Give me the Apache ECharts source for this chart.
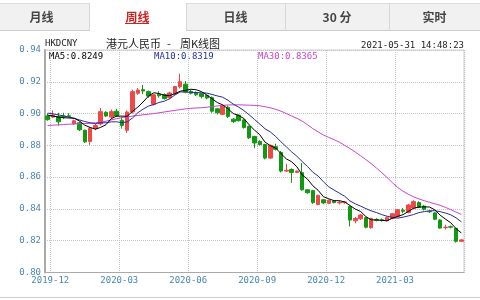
<!DOCTYPE html>
<html><head><meta charset="utf-8">
<script src="https://cdn.jsdelivr.net/npm/echarts@6/dist/echarts.min.js"></script>
<style>html,body{margin:0;padding:0;background:#fff;}#c{width:480px;height:300px;}</style>
</head><body><div id="c"></div>
<script>
// weekly categories (week-ending Fridays)
const categories = [];
for (let k = 0; k < 79; k++) {
  const d = new Date(Date.UTC(2019, 10, 29) + k * 7 * 86400000);
  categories.push(d.toISOString().slice(0, 10));
}
const openVals = [.8985,.8978,.8982,.8985,.8986,.8935,.8942,.8895,.8825,.8905,
.8935,.9008,.8978,.9015,.8958,.8895,.9010,.9128,.9150,.9138,
.9058,.9122,.9120,.9100,.9125,.9168,.9185,.9140,.9132,.9125,
.9115,.9100,.9030,.8995,.9040,.8965,.8990,.8960,.8918,.8856,
.8825,.8805,.8720,.8792,.8755,.8638,.8648,.8630,.8628,.8520,
.8515,.8428,.8458,.8435,.8450,.8438,.8440,.8415,.8325,.8338,
.8345,.8282,.8333,.8332,.8327,.8340,.8352,.8392,.8378,.8405,
.8440,.8418,.8385,.8375,.8330,.8282,.8288,.8278,.8196];
const closeVals = [.8962,.8990,.8948,.8980,.8982,.8955,.8898,.8822,.8908,.8925,
.9012,.8985,.9012,.8985,.8925,.9010,.9138,.9148,.9142,.9110,
.9118,.9112,.9095,.9130,.9170,.9200,.9135,.9128,.9118,.9108,
.9098,.9015,.9005,.9048,.8982,.8950,.8955,.8912,.8848,.8815,
.8805,.8720,.8800,.8775,.8638,.8643,.8630,.8638,.8520,.8502,
.8440,.8485,.8438,.8455,.8440,.8442,.8444,.8330,.8340,.8362,
.8285,.8340,.8328,.8327,.8345,.8370,.8395,.8385,.8425,.8446,
.8410,.8398,.8382,.8335,.8280,.8285,.8285,.8196,.8205];
const lowVals = [.8955,.8972,.8925,.8965,.8975,.8930,.8890,.8815,.8803,.8895,
.8925,.8978,.8968,.8978,.8905,.8878,.9000,.9118,.9122,.9100,
.9050,.9100,.9088,.9092,.9118,.9158,.9128,.9120,.9110,.9095,
.9090,.9005,.8995,.8990,.8972,.8940,.8950,.8905,.8840,.8782,
.8798,.8712,.8715,.8768,.8630,.8632,.8565,.8625,.8515,.8495,
.8432,.8422,.8430,.8430,.8435,.8428,.8432,.8290,.8310,.8330,
.8278,.8275,.8322,.8320,.8322,.8335,.8345,.8372,.8372,.8400,
.8405,.8390,.8375,.8330,.8275,.8270,.8278,.8188,.8192];
const highVals = [.9000,.9020,.9005,.9005,.9002,.8962,.8950,.8900,.8915,.8935,
.9035,.9015,.9025,.9030,.8975,.9020,.9150,.9160,.9180,.9145,
.9125,.9140,.9128,.9138,.9175,.9250,.9205,.9150,.9140,.9130,
.9120,.9108,.9036,.9055,.9050,.8972,.8995,.8965,.8925,.8860,
.8832,.8810,.8805,.8810,.8765,.8685,.8655,.8642,.8688,.8525,
.8520,.8490,.8462,.8460,.8455,.8452,.8450,.8420,.8350,.8368,
.8350,.8345,.8342,.8340,.8352,.8375,.8400,.8405,.8432,.8455,
.8448,.8425,.8392,.8380,.8335,.8300,.8295,.8280,.8210];
const ma5 = [.8990,.8985,.8978,.8974,.8972,.8971,.8953,.8927,.8913,.8902,
.8913,.8930,.8968,.8984,.8984,.8983,.9014,.9041,.9073,.9110,
.9131,.9126,.9115,.9113,.9125,.9141,.9146,.9153,.9150,.9138,
.9117,.9093,.9069,.9055,.9030,.9000,.8988,.8969,.8929,.8896,
.8867,.8820,.8798,.8783,.8748,.8715,.8697,.8665,.8614,.8587,
.8546,.8517,.8477,.8464,.8452,.8452,.8444,.8422,.8399,.8384,
.8352,.8331,.8331,.8328,.8325,.8342,.8353,.8364,.8384,.8404,
.8412,.8413,.8412,.8394,.8361,.8336,.8313,.8276,.8249];
const ma10 = [.9003,.8998,.8992,.8985,.8978,.8970,.8960,.8950,.8942,.8937,
.8942,.8942,.8948,.8948,.8943,.8948,.8972,.9005,.9028,.9047,
.9057,.9070,.9078,.9093,.9117,.9136,.9136,.9134,.9132,.9131,
.9129,.9120,.9111,.9103,.9084,.9059,.9041,.9019,.8992,.8963,
.8934,.8904,.8884,.8856,.8822,.8791,.8759,.8731,.8698,.8667,
.8631,.8607,.8571,.8539,.8519,.8499,.8480,.8450,.8432,.8418,
.8402,.8388,.8377,.8364,.8354,.8347,.8342,.8348,.8356,.8365,
.8377,.8383,.8388,.8389,.8383,.8374,.8363,.8344,.8319];
const ma30 = [.8925,.8927,.8929,.8931,.8933,.8935,.8936,.8937,.8939,.8942,
.8946,.8952,.8960,.8968,.8975,.8980,.8984,.8988,.8992,.8996,
.9000,.9005,.9010,.9015,.9020,.9025,.9030,.9033,.9035,.9037,
.9040,.9044,.9048,.9052,.9054,.9055,.9055,.9054,.9053,.9051,
.9049,.9043,.9036,.9027,.9015,.9000,.8985,.8970,.8952,.8930,
.8905,.8885,.8865,.8850,.8836,.8820,.8800,.8780,.8758,.8735,
.8710,.8685,.8657,.8628,.8598,.8565,.8535,.8512,.8492,.8476,
.8463,.8452,.8442,.8432,.8423,.8410,.8396,.8380,.8365];
const tabLabels = ['月线','周线','日线','30 分','实时'];

const chart = echarts.init(document.getElementById('c'), null, {renderer:'canvas'});
const mono = '"DejaVu Sans Mono", monospace';
const cjk = '"Noto Sans CJK SC", sans-serif';
const tabEdges = [-6, 89, 186, 285, 389, 480];
const graphics = [];
graphics.push({type:'rect', shape:{x:0,y:3,width:480,height:27}, style:{fill:'#f1f1f1'}, silent:true});
graphics.push({type:'line', shape:{x1:0,y1:3.5,x2:480,y2:3.5}, style:{stroke:'#dddddd',lineWidth:1}, silent:true});
graphics.push({type:'line', shape:{x1:0,y1:30.5,x2:480,y2:30.5}, style:{stroke:'#cccccc',lineWidth:1}, silent:true});
graphics.push({type:'rect', shape:{x:89,y:3,width:97,height:29}, style:{fill:'#ffffff'}, silent:true});
for (let k = 1; k < 5; k++) {
  graphics.push({type:'line', shape:{x1:tabEdges[k]+0.5,y1:3,x2:tabEdges[k]+0.5,y2:31}, style:{stroke:'#d6d6d6',lineWidth:1}, silent:true});
}
tabLabels.forEach((t, k) => {
  const cx = (tabEdges[k] + tabEdges[k+1]) / 2;
  graphics.push({type:'text', x:cx, y:17, style:{text:t, font:'bold 12px ' + cjk, fill: k===1 ? '#cc2222' : '#444444', align:'center', verticalAlign:'middle', textAlign:'center', textVerticalAlign:'middle'}, silent:true});
});
graphics.push({type:'line', shape:{x1:125,y1:23.5,x2:149,y2:23.5}, style:{stroke:'#cc2222',lineWidth:1}, silent:true});
const txt = (t, x, y, font, fill, align) => ({type:'text', x:x, y:y, style:{text:t, font:font, fill:fill, align:align||'left', verticalAlign:'middle', textAlign:align||'left', textVerticalAlign:'middle'}, silent:true});
graphics.push(txt('HKDCNY', 45, 44, '9px ' + mono, '#222222'));
graphics.push(txt('港元人民币', 106, 43.5, '11px ' + cjk, '#222222'));
graphics.push(txt('-', 167, 43.5, '11px ' + cjk, '#222222'));
graphics.push(txt('周K线图', 180, 43.5, '11px ' + cjk, '#222222'));
graphics.push(txt('2021-05-31 14:48:23', 464, 46, '9px ' + mono, '#222222', 'right'));
graphics.push(txt('MA5:' + ma5[ma5.length-1].toFixed(4), 49, 57, '9px ' + mono, '#000000'));
graphics.push(txt('MA10:' + ma10[ma10.length-1].toFixed(4), 154, 57, '9px ' + mono, '#2233aa'));
graphics.push(txt('MA30:' + ma30[ma30.length-1].toFixed(4), 258, 57, '9px ' + mono, '#cc44cc'));
graphics.push({type:'rect', shape:{x:0,y:297,width:480,height:1}, style:{fill:'#cccccc'}, silent:true});

const labelSel = (i) => i % 13 === 1;
chart.setOption({
  animation: false,
  backgroundColor: '#ffffff',
  grid: {left:45, top:50, width:419, height:222.5, show:true, borderColor:'#cccccc', borderWidth:1},
  xAxis: {
    type:'category', data:categories, boundaryGap:true,
    axisLine:{show:true, lineStyle:{color:'#aaaaaa', width:1}},
    axisTick:{show:false},
    axisLabel:{interval:labelSel, formatter:(v)=>v.slice(0,7), color:'#4a86b4', fontFamily:mono, fontSize:9, margin:4, padding:[0,5.3,0,0]},
    splitLine:{show:true, interval:labelSel, lineStyle:{color:'#c4c4c4', type:[1,1], width:1}}
  },
  yAxis: {
    type:'value', min:0.80, max:0.94, interval:0.02, scale:true,
    axisLine:{show:true, lineStyle:{color:'#aaaaaa', width:2}},
    axisTick:{show:false},
    axisLabel:{formatter:(v)=>v.toFixed(2), color:'#4a86b4', fontFamily:mono, fontSize:9, margin:4},
    splitLine:{show:true, lineStyle:{color:'#c4c4c4', type:[1,1], width:1}}
  },
  series: [
    {type:'candlestick', data: categories.map((_, i) => [openVals[i], closeVals[i], lowVals[i], highVals[i]]),
     barWidth:4, silent:true,
     itemStyle:{color:'#ee4848', color0:'#119911', borderColor:'#ee4848', borderColor0:'#119911', borderWidth:1}},
    {type:'line', data:ma30, symbol:'none', silent:true, color:'#cc44cc', lineStyle:{color:'#cc44cc', width:1}},
    {type:'line', data:ma10, symbol:'none', silent:true, color:'#2a2a9a', lineStyle:{color:'#2a2a9a', width:1}},
    {type:'line', data:ma5, symbol:'none', silent:true, color:'#000000', lineStyle:{color:'#000000', width:1}}
  ],
  graphic: graphics
});
</script></body></html>
